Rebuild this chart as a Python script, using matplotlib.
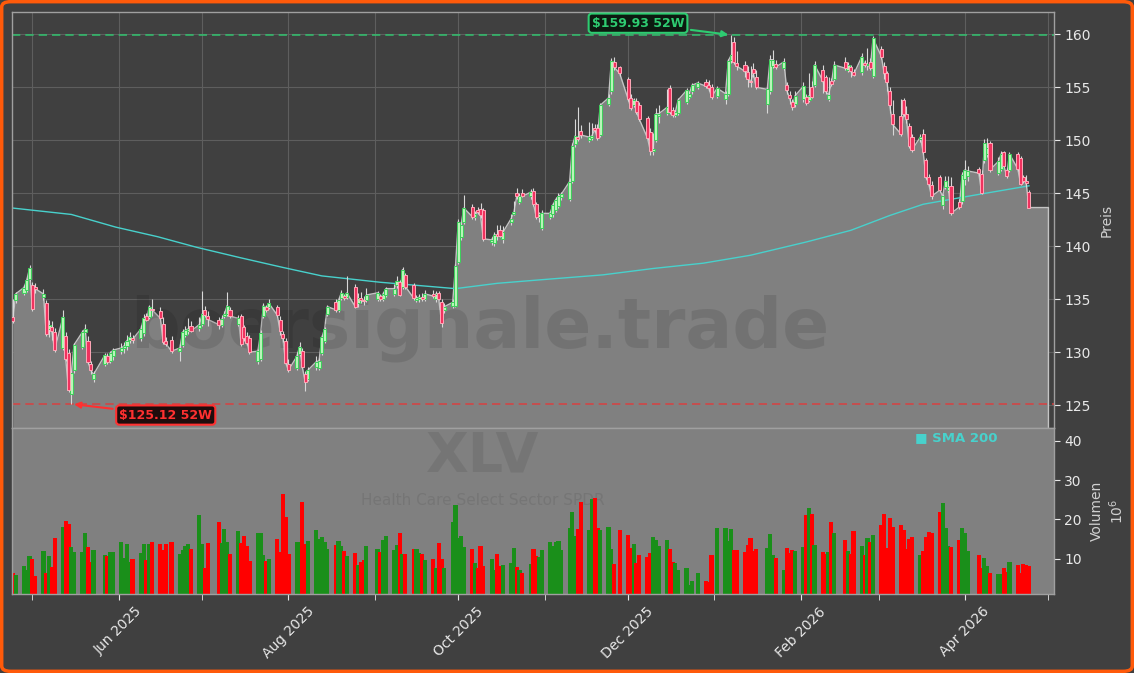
import matplotlib
matplotlib.use("Agg")
import matplotlib.pyplot as plt
import matplotlib.dates as mdates
from matplotlib.patches import FancyBboxPatch
import numpy as np
import pandas as pd

# --- data ----------------------------------------------------------------
holidays = ["2025-05-26", "2025-06-19", "2025-07-04", "2025-09-01", "2025-11-27",
            "2025-12-25", "2026-01-01", "2026-01-19", "2026-02-16", "2026-04-03"]

opens = [
    133.3, 134.9, 135.6, 135.9, 136.9, 136.3, 136.2, 135.2, 134.6, 132.2,
    132.4, 131.9, 130.4, 131.5, 129.9, 126.1, 128.3, 130.5, 131.9, 131.1,
    128.9, 127.5, 128.9, 129.6, 129.2, 129.6, 130.1, 130.4, 130.6, 131.2,
    131.3, 131.3, 131.8, 133.4, 133.3, 134.1, 133.9, 132.7, 131.1, 131.2,
    130.1, 130.7, 131.6, 132.0, 132.5, 132.3, 132.7, 134.0, 133.4, 133.0,
    132.6, 133.4, 133.6, 134.0, 132.7, 133.4, 132.4, 131.5, 131.3, 129.2,
    129.4, 133.4, 134.3, 134.3, 134.3, 133.0, 131.7, 131.1, 128.9, 128.5,
    129.8, 130.1, 127.9, 127.5, 128.6, 128.5, 129.9, 131.1, 133.6, 134.7,
    134.0, 135.1, 135.3, 135.2, 136.2, 134.6, 135.1, 134.9, 134.9, 135.0,
    135.3, 135.0, 135.4, 135.5, 136.3, 136.6, 136.2, 137.3, 136.3, 134.9,
    135.0, 135.2, 135.0, 135.5, 135.0, 135.6, 134.7, 134.0, 134.4, 134.4,
    138.5, 140.9, 142.3, 143.7, 142.8, 143.4, 143.5, 143.4, 140.4, 140.3,
    141.2, 141.5, 140.7, 142.3, 143.0, 145.0, 144.2, 145.0, 144.7, 145.2,
    144.0, 142.8, 141.7, 142.8, 143.0, 143.4, 143.8, 144.6, 144.5, 146.2,
    149.6, 150.3, 150.9, 150.0, 150.2, 151.2, 151.2, 150.5, 153.4, 154.6,
    157.4, 156.9, 155.8, 154.0, 153.3, 153.7, 153.3, 152.1, 150.8, 149.0,
    150.0, 152.3, 152.6, 154.9, 152.9, 152.4, 152.6, 153.6, 154.1, 154.6,
    155.0, 155.5, 155.2, 155.0, 154.2, 153.9, 154.4, 157.6, 159.3, 157.3,
    157.1, 156.4, 155.6, 156.7, 156.0, 153.4, 154.6, 157.0, 157.2, 156.8,
    155.2, 154.3, 153.6, 153.4, 153.9, 154.1, 153.8, 155.0, 155.2, 156.6,
    156.0, 153.9, 155.6, 155.8, 157.4, 156.6, 156.9, 156.4, 156.4, 157.3,
    157.1, 157.4, 156.1, 158.6, 157.0, 156.3, 154.6, 152.5, 152.3, 153.8,
    152.5, 151.3, 150.3, 150.1, 150.6, 148.1, 146.5, 145.8, 146.5, 143.9,
    145.6, 145.3, 145.7, 144.2, 144.3, 146.3, 146.6, 147.3, 146.8, 148.1,
    148.7, 149.7, 146.9, 147.3, 148.9, 147.2, 147.2, 148.7, 148.3, 146.5,
    146.2, 145.1,
]
highs = [
    135.0, 135.7, 136.3, 137.0, 138.2, 136.6, 136.5, 136.0, 134.9, 133.0,
    132.9, 132.3, 134.0, 131.9, 130.3, 128.3, 130.9, 132.1, 132.7, 131.5,
    129.2, 128.2, 129.9, 129.9, 130.1, 130.4, 130.9, 131.0, 131.6, 131.9,
    131.6, 132.6, 133.6, 133.7, 134.5, 135.0, 134.3, 133.3, 131.4, 131.5,
    130.8, 132.2, 132.5, 133.2, 132.9, 133.3, 135.8, 134.4, 133.9, 133.3,
    133.5, 133.9, 135.7, 134.3, 133.5, 133.6, 132.6, 131.9, 131.6, 130.3,
    132.1, 134.6, 134.5, 135.0, 134.5, 133.4, 132.0, 131.3, 129.4, 130.0,
    131.0, 130.4, 128.2, 128.6, 129.6, 129.5, 131.6, 132.4, 134.5, 135.0,
    135.1, 135.9, 135.5, 137.2, 136.4, 135.6, 135.7, 135.3, 136.1, 135.8,
    135.5, 135.7, 136.2, 136.4, 137.2, 136.8, 138.05, 137.5, 136.5, 135.4,
    135.5, 135.6, 135.9, 135.9, 135.8, 135.8, 135.0, 134.6, 135.0, 138.3,
    142.6, 142.3, 144.8, 144.0, 143.3, 143.7, 144.1, 143.6, 140.9, 141.3,
    142.0, 142.0, 141.9, 143.0, 144.3, 145.5, 145.0, 145.4, 145.4, 145.5,
    144.2, 143.2, 143.4, 143.3, 144.1, 144.6, 145.0, 145.1, 146.4, 149.7,
    152.0, 153.1, 151.4, 151.7, 151.6, 151.5, 151.5, 153.5, 154.4, 157.8,
    157.9, 157.0, 156.0, 154.4, 154.0, 154.0, 153.6, 152.3, 151.2, 150.7,
    153.0, 153.3, 154.8, 155.2, 153.1, 152.9, 154.0, 154.9, 154.6, 155.4,
    155.6, 155.8, 155.7, 155.3, 155.1, 154.6, 157.7, 159.93, 159.7, 158.4,
    157.5, 157.0, 157.0, 157.3, 156.6, 155.0, 158.0, 158.5, 157.6, 157.8,
    155.5, 154.6, 153.9, 154.6, 155.5, 154.4, 156.3, 155.6, 157.5, 157.1,
    156.2, 156.0, 155.9, 157.5, 157.9, 157.4, 157.1, 156.7, 158.2, 157.6,
    158.7, 157.8, 159.8, 158.9, 157.4, 156.5, 155.0, 153.8, 153.9, 154.0,
    153.2, 151.6, 150.6, 150.6, 151.1, 148.3, 146.8, 146.2, 146.7, 144.9,
    146.6, 146.6, 146.5, 144.5, 147.0, 148.1, 147.6, 147.5, 147.2, 150.1,
    150.2, 149.9, 148.4, 149.0, 149.0, 147.4, 148.9, 148.9, 148.5, 146.7,
    146.7, 145.3,
]
lows = [
    132.8, 134.6, 135.4, 135.7, 136.7, 133.9, 135.6, 134.9, 131.5, 131.4,
    131.2, 130.0, 130.2, 129.2, 126.2, 125.12, 128.0, 130.3, 131.7, 128.9,
    127.9, 127.2, 128.7, 128.9, 129.0, 129.3, 129.8, 129.9, 130.2, 130.9,
    130.9, 131.1, 131.5, 132.9, 133.1, 133.4, 133.1, 130.8, 130.6, 129.9,
    129.2, 130.5, 131.4, 131.7, 131.9, 132.0, 132.5, 133.3, 132.5, 132.2,
    132.4, 133.2, 133.4, 133.2, 132.5, 130.6, 131.1, 130.7, 129.8, 128.9,
    129.2, 133.2, 133.8, 134.1, 133.3, 131.6, 131.0, 128.9, 128.1, 128.3,
    129.6, 128.5, 126.3, 127.3, 128.3, 128.3, 129.7, 130.9, 133.4, 133.8,
    133.8, 134.9, 134.9, 135.0, 134.2, 134.3, 134.6, 134.5, 134.7, 134.8,
    134.8, 134.8, 135.2, 135.3, 136.1, 135.3, 136.0, 136.0, 134.9, 134.7,
    134.7, 134.8, 134.8, 135.1, 134.7, 134.9, 132.4, 133.7, 134.2, 134.3,
    138.3, 140.6, 142.1, 142.6, 142.5, 143.0, 142.7, 140.5, 140.1, 140.0,
    140.6, 140.9, 140.3, 142.0, 142.9, 144.5, 144.0, 144.6, 144.5, 143.8,
    142.6, 142.3, 141.5, 142.6, 142.8, 143.2, 143.6, 144.4, 144.3, 146.0,
    149.4, 149.9, 150.2, 149.8, 150.0, 150.8, 150.0, 150.3, 153.2, 154.4,
    156.6, 156.1, 153.7, 152.9, 153.1, 152.5, 151.8, 150.0, 148.6, 148.6,
    149.8, 151.6, 152.4, 152.5, 152.2, 152.2, 152.4, 153.4, 153.9, 154.4,
    154.8, 154.9, 154.6, 153.9, 154.0, 153.4, 154.2, 157.3, 157.2, 156.6,
    156.0, 155.0, 155.0, 156.0, 154.8, 152.6, 154.4, 156.8, 156.7, 156.6,
    154.4, 153.4, 152.9, 153.1, 153.6, 153.3, 153.6, 154.0, 155.0, 154.5,
    154.4, 153.7, 155.1, 155.6, 156.6, 156.4, 156.0, 156.1, 156.2, 156.9,
    156.6, 156.6, 155.9, 157.7, 155.8, 154.6, 152.6, 150.5, 150.4, 152.3,
    151.6, 149.3, 148.9, 149.8, 148.7, 146.3, 145.7, 144.5, 145.1, 143.5,
    145.4, 145.1, 142.9, 143.5, 144.0, 145.8, 146.2, 146.6, 144.9, 147.9,
    148.4, 147.0, 146.7, 147.1, 147.5, 146.4, 147.0, 147.1, 145.8, 146.0,
    145.6, 143.6,
]
closes = [
    132.9, 135.5, 136.1, 136.8, 137.9, 134.1, 136.0, 135.5, 131.7, 132.6,
    132.0, 130.2, 133.3, 129.4, 126.4, 128.0, 130.7, 131.9, 132.2, 129.1,
    128.3, 127.9, 129.7, 129.1, 129.9, 130.2, 130.4, 130.6, 131.1, 131.4,
    131.2, 132.2, 133.2, 133.0, 134.3, 134.0, 133.2, 131.0, 130.8, 130.1,
    130.4, 131.9, 132.1, 132.2, 132.0, 132.6, 133.6, 133.5, 133.1, 132.6,
    133.1, 133.6, 134.4, 133.4, 133.2, 130.8, 131.3, 130.9, 130.0, 130.1,
    131.8, 134.4, 134.0, 134.6, 133.5, 132.0, 131.3, 129.0, 128.3, 129.6,
    130.5, 128.6, 127.2, 128.3, 129.1, 129.2, 131.4, 132.2, 134.3, 134.0,
    134.9, 135.6, 135.1, 135.6, 134.3, 135.1, 134.9, 134.8, 135.4, 135.6,
    135.0, 135.5, 136.0, 136.0, 136.7, 135.4, 137.8, 136.2, 135.1, 135.1,
    135.2, 135.0, 135.5, 135.3, 135.5, 135.0, 132.8, 134.3, 134.7, 138.1,
    142.3, 142.0, 143.6, 142.8, 143.0, 143.2, 142.9, 140.7, 140.6, 141.1,
    141.0, 141.0, 141.3, 142.6, 143.2, 144.7, 144.7, 144.7, 145.1, 144.0,
    142.8, 143.0, 143.1, 143.1, 143.9, 144.4, 144.7, 144.9, 146.1, 149.5,
    150.4, 150.1, 150.5, 150.3, 150.4, 151.0, 150.2, 153.3, 154.0, 157.5,
    156.9, 156.3, 153.9, 153.05, 153.8, 152.7, 152.0, 150.2, 149.0, 149.2,
    152.5, 152.5, 153.1, 152.7, 152.4, 152.7, 153.8, 154.7, 154.4, 155.2,
    155.4, 155.1, 154.9, 154.1, 154.9, 154.4, 157.5, 158.0, 157.4, 157.0,
    156.5, 155.8, 155.5, 156.3, 155.0, 154.8, 157.6, 157.6, 156.9, 157.4,
    154.7, 154.0, 153.1, 154.2, 155.1, 153.5, 154.2, 154.1, 157.1, 155.6,
    154.6, 154.3, 155.3, 157.1, 156.8, 157.1, 156.5, 156.2, 157.9, 157.1,
    157.2, 156.8, 159.6, 157.9, 156.3, 155.5, 153.3, 151.5, 150.6, 152.5,
    152.0, 149.5, 149.1, 150.3, 148.9, 146.5, 145.9, 144.7, 145.3, 144.7,
    146.2, 145.6, 143.1, 143.7, 146.7, 147.2, 147.1, 146.9, 145.0, 149.7,
    149.3, 147.2, 148.0, 148.7, 147.6, 146.6, 148.7, 147.3, 145.9, 146.2,
    146.0, 143.65,
]
# volume in millions
volumes = [
    6.4, 5.9, 8.1, 7.0, 10.6, 9.8, 5.5, 11.9, 6.4, 10.6,
    7.8, 15.3, 18.0, 19.7, 18.9, 13.1, 11.8, 11.8, 16.6, 12.9,
    9.2, 12.3, 11.0, 10.8, 11.8, 11.8, 14.3, 10.1, 13.8, 9.2,
    10.0, 11.5, 13.8, 9.7, 13.8, 14.3, 13.8, 12.3, 13.8, 14.3,
    11.3, 12.1, 13.3, 13.8, 12.5, 21.2, 13.8, 7.5, 14.1, 19.4,
    14.1, 17.6, 14.3, 11.3, 17.1, 14.1, 15.9, 13.3, 9.5, 16.6,
    16.6, 11.0, 9.5, 9.8, 15.1, 11.8, 26.5, 20.7, 11.3, 14.3,
    14.3, 24.5, 13.8, 14.6, 17.4, 15.1, 15.6, 14.3, 12.5, 13.6,
    14.6, 13.3, 12.0, 10.8, 11.5, 8.5, 9.2, 9.7, 13.3, 12.5,
    11.8, 14.8, 15.9, 12.3, 13.6, 16.6, 11.3, 11.3, 12.5, 12.5,
    11.5, 11.3, 9.7, 10.0, 7.5, 14.1, 10.0, 7.7, 19.4, 23.7,
    15.3, 15.9, 13.1, 12.5, 9.0, 7.7, 13.3, 8.2, 10.0, 7.2,
    11.3, 8.2, 8.5, 9.0, 12.8, 8.0, 7.0, 6.4, 8.7, 12.5,
    10.8, 10.5, 12.3, 14.3, 13.3, 14.3, 14.6, 12.3, 17.9, 22.0,
    15.7, 17.6, 24.5, 17.4, 25.3, 25.5, 17.9, 17.4, 18.0, 12.5,
    8.7, 17.4, 16.1, 12.8, 13.8, 9.0, 11.0, 10.5, 11.5, 15.6,
    14.8, 13.3, 14.8, 12.5, 9.2, 9.0, 7.2, 7.5, 3.3, 4.4,
    6.4, 4.4, 4.1, 11.0, 17.9, 17.9, 14.6, 17.6, 12.3, 12.3,
    11.8, 13.6, 15.3, 12.0, 12.5, 12.8, 16.4, 11.0, 10.3, 7.0,
    12.8, 11.5, 12.3, 12.0, 13.0, 21.2, 23.0, 21.5, 13.6, 11.8,
    11.3, 11.8, 19.4, 16.6, 14.8, 12.0, 11.3, 17.1, 13.3, 11.0,
    15.3, 14.3, 16.0, 18.6, 21.5, 12.8, 20.4, 18.1, 18.6, 17.4,
    12.5, 15.0, 15.6, 11.0, 12.0, 15.6, 16.9, 16.6, 22.0, 24.2,
    17.9, 13.3, 13.1, 14.8, 17.9, 16.6, 12.0, 11.0, 7.5, 10.3,
    8.2, 6.4, 6.2, 6.2, 7.7, 6.7, 9.2, 8.5, 6.4, 8.7,
    8.5, 8.2,
]
sma_dates = ["2025-04-24", "2025-05-15", "2025-05-31", "2025-06-15", "2025-06-29",
             "2025-07-15", "2025-07-30", "2025-08-13", "2025-09-03", "2025-09-30",
             "2025-10-15", "2025-10-29", "2025-11-22", "2025-12-10", "2025-12-28",
             "2026-01-14", "2026-02-03", "2026-02-19", "2026-03-05", "2026-03-17",
             "2026-04-04", "2026-04-24"]
sma_values = [143.6, 143.0, 141.8, 140.9, 139.9,
              138.9, 138.0, 137.2, 136.6, 136.0,
              136.5, 136.8, 137.3, 137.9, 138.4,
              139.15, 140.4, 141.5, 142.9, 143.96,
              144.8, 145.7]

# --- style ---------------------------------------------------------------
BG = "#404040"
FILL = "#808080"
TXT = "#e8e8e8"
SPINE = "#a0a0a0"
UP_FACE, UP_EDGE = "#b8f5b8", "#3ccf5a"
DN_FACE, DN_EDGE = "#f0325f", "#ffa8b8"
SMA_COL = "#48d1cc"
HI_COL = "#2ecc71"
LO_COL = "#ff3030"

dates = pd.bdate_range("2025-04-24", "2026-04-24")
dates = dates[~dates.isin(pd.to_datetime(holidays))]
x = mdates.date2num(dates)

o = np.array(opens); h = np.array(highs); l = np.array(lows); c = np.array(closes)
v = np.array(volumes)
up = c >= o

W, H = 1134, 673
fig = plt.figure(figsize=(W / 100, H / 100), dpi=100, facecolor=BG)
ax = fig.add_axes([12 / W, 1 - 428 / H, 1042 / W, 416 / H])
axv = fig.add_axes([12 / W, 1 - 594 / H, 1042 / W, 166 / H], sharex=ax)

ylo, yhi = 122.85, 162.1
x_left, x_right = x[0] - 0.3, x[-1] + 9

# price panel
ax.set_facecolor(BG)
ax.set_axisbelow(True)
ax.grid(True, which="both", color="#5e5e5e", lw=0.8)

x_area = np.append(x, [x[-1] + 7, x[-1] + 7])
c_area = np.append(c, [c[-1], ylo])
ax.fill_between(x_area[:-1], c_area[:-1], ylo, color=FILL, lw=0, zorder=1)
ax.plot(x_area, c_area, color="#c4c4c4", lw=1.0, zorder=1.2)

ax.text(0.449, 0.24, "boersignale.trade", transform=ax.transAxes, fontsize=50,
        fontweight="bold", color="black", alpha=0.1, ha="center", va="center", zorder=1.5)

ax.plot(mdates.date2num(pd.to_datetime(sma_dates)), sma_values, color=SMA_COL, lw=1.0,
        zorder=2)

ax.axhline(159.93, color=HI_COL, ls=(0, (5, 3)), lw=1.2, alpha=0.85, zorder=2)
ax.axhline(125.12, color="#e03c3c", ls=(0, (5, 3)), lw=1.2, alpha=0.85, zorder=2)

ax.vlines(x, l, h, color="#d8d8d8", lw=0.8, zorder=3)
body_lo = np.minimum(o, c)
body_h = np.maximum(np.abs(c - o), 0.08)
ax.bar(x[up], body_h[up], bottom=body_lo[up], width=1.1, color=UP_FACE,
       edgecolor=UP_EDGE, lw=0.7, zorder=4)
ax.bar(x[~up], body_h[~up], bottom=body_lo[~up], width=1.1, color=DN_FACE,
       edgecolor=DN_EDGE, lw=0.7, zorder=4)

i_hi = int(np.argmax(h))
i_lo = int(np.argmin(l))
ax.annotate("\\$159.93 52W", xy=(x[i_hi], h[i_hi]), xytext=(-67, 8.5),
            textcoords="offset points", ha="center", va="center", color=HI_COL,
            fontsize=9, fontweight="bold", zorder=6,
            bbox=dict(boxstyle="round,pad=0.25", fc="#0c1a10", ec=HI_COL, lw=1.5),
            arrowprops=dict(arrowstyle="-|>", color=HI_COL, lw=1.5))
ax.annotate("\\$125.12 52W", xy=(x[i_lo], l[i_lo]), xytext=(68, -8),
            textcoords="offset points", ha="center", va="center", color=LO_COL,
            fontsize=9, fontweight="bold", zorder=6,
            bbox=dict(boxstyle="round,pad=0.25", fc="#1e0c0c", ec=LO_COL, lw=1.5),
            arrowprops=dict(arrowstyle="-|>", color=LO_COL, lw=1.5))

ax.set_ylim(ylo, yhi)
ax.set_xlim(x_left, x_right)
ax.yaxis.tick_right()
ax.yaxis.set_label_position("right")
ax.set_yticks([125, 130, 135, 140, 145, 150, 155, 160])
ax.set_ylabel("Preis", color="#d0d0d0", fontsize=10, labelpad=6)
ax.tick_params(axis="y", colors=TXT, labelsize=10, length=4)
ax.tick_params(axis="x", which="both", length=0, labelbottom=False)

# volume panel
axv.set_facecolor(FILL)
vol_col = np.where(up, "#1a8f1a", "#ff0000")
axv.bar(x, v, width=1.5, color=vol_col, lw=0, zorder=2)
axv.set_ylim(1.0, 43.3)
axv.set_yticks([10, 20, 30, 40])
axv.yaxis.tick_right()
axv.yaxis.set_label_position("right")
axv.set_ylabel("Volumen\n$10^6$", color="#d0d0d0", fontsize=10, labelpad=6)
axv.tick_params(axis="y", colors=TXT, labelsize=10, length=4)

axv.xaxis.set_major_locator(mdates.MonthLocator(bymonth=(2, 4, 6, 8, 10, 12)))
axv.xaxis.set_minor_locator(mdates.MonthLocator())
axv.xaxis.set_major_formatter(mdates.DateFormatter("%b %Y"))
axv.tick_params(axis="x", which="both", colors=TXT, labelsize=10, length=4)
for lab in axv.get_xticklabels():
    lab.set_rotation(45)
    lab.set_ha("center")

# watermark: ticker and fund name
axv.text(0.452, 0.83, "XLV", transform=axv.transAxes, fontsize=40, fontweight="bold",
         color="black", alpha=0.08, ha="center", va="center", zorder=1)
axv.text(0.452, 0.565, "Health Care Select Sector SPDR", transform=axv.transAxes,
         fontsize=11, color="black", alpha=0.08, ha="center", va="center", zorder=1)
axv.text(0.867, 0.94, "■ SMA 200", transform=axv.transAxes, fontsize=9.5,
         fontweight="bold", color=SMA_COL, ha="left", va="center", zorder=5)

for a in (ax, axv):
    for s in a.spines.values():
        s.set_color(SPINE)
        s.set_linewidth(1.0)

# orange frame
fig.patches.append(FancyBboxPatch((0.0015, 0.0025), 0.997, 0.995,
                                  boxstyle="round,pad=0,rounding_size=0.008",
                                  transform=fig.transFigure, fc="none",
                                  ec="#ff5a0a", lw=2.5, zorder=10))

fig.savefig("out.png", dpi=100, facecolor=BG)
